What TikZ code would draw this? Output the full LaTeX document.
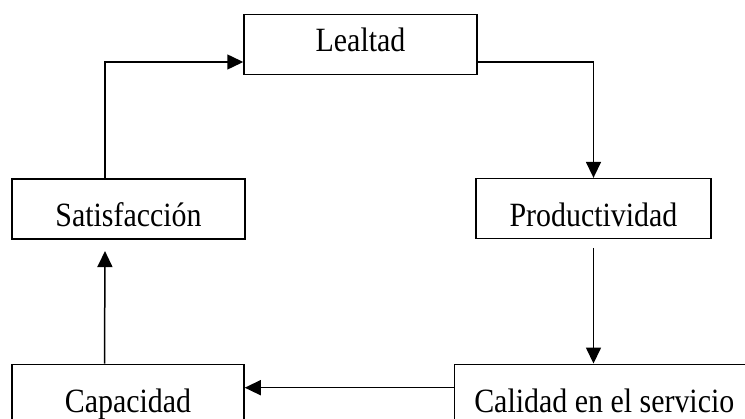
\documentclass[tikz,border=0pt]{standalone}
\usepackage{fontspec}
\setmainfont{Liberation Serif}
\newfontfamily\cyclefont[FakeStretch=0.88]{Liberation Serif}
\usetikzlibrary{arrows.meta, positioning, calc}

\tikzset{
  stagebox/.style={draw, line width=1.5pt, minimum height=60pt, inner sep=0pt,
    text height=36pt, text depth=0pt,
    font=\cyclefont\fontsize{34}{38}\selectfont},
  flow/.style={line width=1.5pt, -{Triangle[length=16pt, width=15pt]}}
}

\begin{document}
\begin{tikzpicture}[x=1pt, y=1pt]
    \useasboundingbox (0,0) rectangle (745,-419);
    \clip (0,0) rectangle (745,-419);

    % Stages of the cycle
    \node[stagebox, minimum width=233pt, text height=22pt, text depth=8pt] (leal) at (360.5,-44.7) {Lealtad};
    \node[stagebox, minimum width=233pt] (sat) at (128.5,-208.8) {Satisfacci\'on};
    \node[stagebox, minimum width=235pt] (prod) at (593.5,-208.6) {Productividad};
    \node[stagebox, minimum width=232pt] (cap) at (128,-394.3) {Capacidad};
    \node[stagebox, minimum width=300pt] (cal) at (604.3,-394.3) {Calidad en el servicio};

    % Top loop
    \draw[flow] ([xshift=-23.5pt]sat.north) |- ([yshift=-17.3pt]leal.west);
    \draw[flow] ([yshift=-17.3pt]leal.east) -| (prod.north);

    % Right side down
    \draw[flow] ([yshift=-8.5pt]prod.south) -- (prod.south |- cal.north);

    % Bottom back to the left
    \draw[flow] ([yshift=6.6pt]cal.west) -- ([yshift=6.6pt]cap.east);
    \draw[flow] ([xshift=-23.5pt]cap.north) -- ([xshift=-23.5pt, yshift=-11.5pt]sat.south);
\end{tikzpicture}
\end{document}
